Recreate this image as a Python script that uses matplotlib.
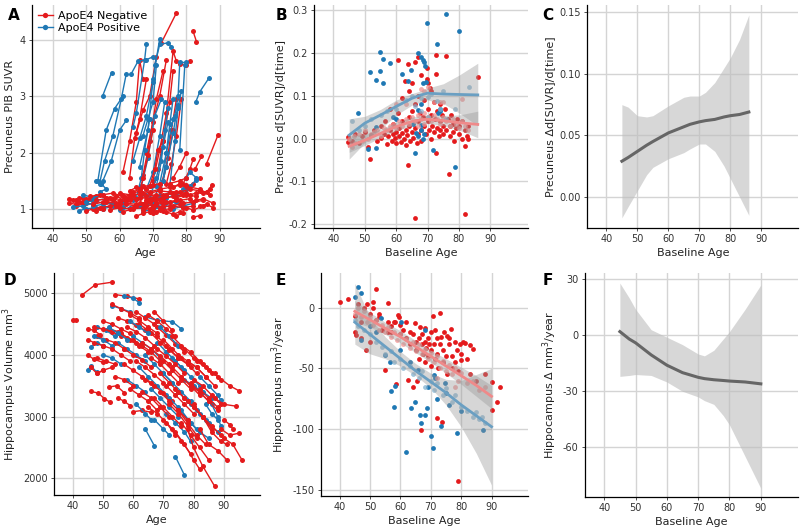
import matplotlib
matplotlib.use("Agg")
import matplotlib.pyplot as plt
from matplotlib.lines import Line2D

plt.rcParams['font.family'] = ['DejaVu Sans']
plt.rcParams['axes.unicode_minus'] = False

RED = '#E41A1C'
BLUE = '#1F78B4'
LRED = '#F29090'
LBLUE = '#7FB0CF'
CRED = '#EF8A8A'
CBLUE = '#6A9FC2'

# ---------------- Panel A: Precuneus PIB SUVR trajectories ----------------
A_pos = [
    [(54.9, 3.00), (57.6, 3.42)],
    [(54.0, 1.45), (55.5, 1.85), (58.0, 2.30), (60.5, 2.95), (62.0, 3.40)],
    [(53.5, 1.50), (56.0, 2.40), (58.5, 2.78), (61.0, 3.00)],
    [(55.0, 1.50), (57.5, 1.85), (60.0, 2.40), (62.0, 2.57)],
    [(64.0, 2.45), (65.0, 2.70), (67.5, 3.65), (68.0, 3.92)],
    [(63.5, 3.40), (65.5, 3.62), (68.0, 3.65), (70.0, 3.70)],
    [(66.0, 1.75), (68.5, 2.40), (70.0, 3.30), (72.0, 4.02)],
    [(70.5, 3.55), (72.0, 3.92), (74.5, 3.95), (75.5, 3.88)],
    [(64.0, 1.85), (66.0, 2.25), (68.0, 2.65), (70.0, 3.25)],
    [(66.5, 1.40), (68.5, 1.90), (70.5, 2.65), (72.5, 2.95)],
    [(68.0, 1.35), (70.0, 1.65), (72.0, 2.30), (73.5, 2.90)],
    [(69.0, 1.20), (71.0, 1.55), (73.0, 2.10), (74.5, 2.55)],
    [(70.0, 1.10), (72.0, 1.45), (74.0, 2.00), (76.0, 2.60)],
    [(72.0, 1.25), (74.0, 1.75), (76.0, 2.35), (77.5, 2.85)],
    [(75.0, 1.40), (76.5, 2.20), (77.5, 2.80), (78.5, 3.10)],
    [(76.5, 2.65), (77.5, 3.00), (78.0, 3.60), (80.0, 3.60)],
    [(78.0, 2.05), (79.5, 3.55)],
    [(82.8, 2.90), (84.0, 3.08), (86.7, 3.32)],
    [(80.0, 1.55), (81.0, 1.65), (83.0, 1.55)],
    [(65.0, 1.20), (66.5, 1.55), (67.5, 2.05), (69.0, 2.60)],
    [(71.0, 1.40), (72.5, 1.85), (73.5, 2.40), (74.5, 2.80)],
    [(73.0, 1.50), (74.0, 2.00), (75.0, 2.50), (76.0, 2.95)],
    [(67.0, 2.30), (68.5, 2.60), (70.0, 2.90), (71.0, 3.55)],
    [(53.0, 1.50), (54.5, 1.45), (56.0, 1.35), (54.0, 1.30)],
    [(46.0, 1.03), (49.0, 1.05), (52.0, 1.10)],
    [(48.0, 0.97), (50.0, 1.00), (53.0, 1.02)],
    [(49.0, 1.25), (52.0, 1.20), (55.0, 1.25)],
    [(50.0, 1.12), (53.0, 1.15), (56.0, 1.18)],
    [(52.0, 1.05), (55.0, 1.08), (58.0, 1.10)],
    [(55.0, 1.00), (58.0, 1.05), (61.0, 1.03)],
    [(58.0, 1.08), (61.0, 1.12), (64.0, 1.15)],
    [(60.0, 0.98), (63.0, 1.02), (66.0, 1.05)],
    [(62.0, 1.15), (65.0, 1.18), (68.0, 1.25)],
    [(65.0, 1.05), (68.0, 1.08), (71.0, 1.10)],
    [(67.0, 0.95), (70.0, 1.00), (73.0, 1.02)],
    [(69.0, 1.15), (72.0, 1.20), (75.0, 1.30)],
    [(71.0, 1.05), (74.0, 1.10), (77.0, 1.12)],
    [(74.0, 1.20), (77.0, 1.25), (80.0, 1.35)],
    [(76.0, 1.00), (79.0, 1.05), (82.0, 1.10)],
    [(79.0, 1.35), (81.0, 1.40), (83.0, 1.52)],
]

A_neg = [
    [(72.5, 3.95), (77.0, 4.48)],
    [(82.0, 4.15), (83.0, 3.97)],
    [(61.0, 1.65), (63.0, 2.20), (65.0, 2.90), (66.0, 3.65), (67.0, 3.30)],
    [(63.0, 1.55), (64.5, 2.25), (66.0, 2.60), (68.0, 3.30)],
    [(65.0, 2.35), (67.0, 2.75), (69.0, 3.00), (71.0, 3.70)],
    [(67.0, 1.60), (69.0, 2.20), (71.0, 2.95), (73.0, 3.45)],
    [(68.0, 2.00), (70.0, 2.55), (72.0, 3.00), (74.0, 3.65)],
    [(70.0, 1.50), (72.0, 2.05), (74.0, 2.70), (76.0, 3.80), (77.0, 3.62)],
    [(71.5, 1.70), (73.0, 2.20), (75.0, 2.90), (76.0, 3.45)],
    [(72.0, 1.35), (74.0, 1.75), (75.5, 2.40), (77.0, 2.95)],
    [(73.0, 1.50), (74.5, 1.90), (76.0, 2.40)],
    [(74.0, 1.45), (75.5, 1.80), (77.0, 2.30), (78.5, 2.95)],
    [(78.0, 3.58), (80.0, 3.55), (81.0, 3.62)],
    [(76.0, 1.55), (78.0, 1.75), (80.0, 2.00)],
    [(79.0, 1.45), (81.0, 1.70), (82.0, 1.88)],
    [(82.5, 1.70), (84.5, 1.93)],
    [(86.0, 1.80), (89.5, 2.32)],
    [(80.0, 1.35), (82.0, 1.45), (84.0, 1.55)],
    [(69.0, 1.40), (70.5, 1.70), (71.5, 2.05), (73.0, 2.20)],
    [(66.0, 1.30), (67.0, 1.55), (68.5, 1.95), (70.0, 2.40)],
    [(45, 1.18), (47, 1.15), (49, 1.20)],
    [(45, 1.10), (47, 1.08), (50, 1.12)],
    [(46, 1.15), (48, 1.12), (51, 1.18)],
    [(47, 1.05), (50, 1.10), (52, 1.08)],
    [(48, 1.20), (50, 1.18), (53, 1.22)],
    [(49, 1.12), (52, 1.15), (55, 1.10)],
    [(50, 0.96), (52, 1.00), (55, 1.03)],
    [(51, 1.22), (54, 1.25), (57, 1.20)],
    [(52, 1.08), (55, 1.12), (58, 1.15)],
    [(53, 1.15), (56, 1.18), (59, 1.22)],
    [(54, 1.02), (57, 1.05), (60, 1.08)],
    [(55, 1.25), (58, 1.28), (61, 1.22)],
    [(56, 1.12), (59, 1.10), (62, 1.15)],
    [(57, 0.98), (60, 1.02), (63, 1.00)],
    [(58, 1.18), (61, 1.22), (64, 1.25)],
    [(59, 1.05), (62, 1.10), (65, 1.08)],
    [(60, 1.28), (63, 1.25), (66, 1.32)],
    [(60, 1.12), (62, 1.15), (65, 1.18)],
    [(61, 0.95), (64, 1.00), (67, 1.02)],
    [(62, 1.20), (64, 1.24), (67, 1.28)],
    [(62, 1.08), (65, 1.05), (68, 1.12)],
    [(63, 1.15), (66, 1.20), (69, 1.18)],
    [(64, 1.30), (66, 1.35), (69, 1.40)],
    [(64, 1.02), (67, 1.08), (70, 1.05)],
    [(65, 0.87), (67, 0.92), (69, 0.95)],
    [(65, 1.18), (68, 1.22), (71, 1.25)],
    [(66, 1.10), (69, 1.12), (72, 1.15)],
    [(66, 1.25), (69, 1.30), (72, 1.35)],
    [(67, 0.98), (70, 1.02), (73, 1.05)],
    [(67, 1.40), (70, 1.42), (72, 1.45)],
    [(68, 1.15), (71, 1.18), (74, 1.22)],
    [(68, 1.05), (71, 1.08), (73, 1.10)],
    [(69, 1.28), (72, 1.32), (75, 1.30)],
    [(70, 0.92), (72, 0.98), (75, 1.00)],
    [(70, 1.20), (73, 1.25), (76, 1.28)],
    [(71, 1.10), (74, 1.12), (77, 1.15)],
    [(72, 1.35), (75, 1.38), (78, 1.42)],
    [(72, 1.02), (75, 1.05), (78, 1.08)],
    [(73, 1.18), (76, 1.22), (79, 1.25)],
    [(74, 0.95), (76, 0.90), (78, 0.95)],
    [(74, 1.25), (77, 1.30), (80, 1.28)],
    [(75, 1.12), (78, 1.15), (81, 1.18)],
    [(76, 1.05), (79, 1.02), (82, 1.05)],
    [(77, 1.20), (80, 1.25), (83, 1.22)],
    [(77, 0.88), (79, 0.92)],
    [(78, 1.30), (81, 1.35), (84, 1.32)],
    [(79, 1.10), (82, 1.12), (85, 1.15)],
    [(80, 1.02), (82, 0.98), (85, 1.05)],
    [(81, 1.25), (83, 1.28), (86, 1.30)],
    [(82, 0.85), (84, 0.88)],
    [(83, 1.15), (85, 1.18), (88, 1.10)],
    [(84, 1.05), (86, 1.08), (88, 1.02)],
    [(85, 1.28), (87, 1.35), (87.5, 1.43)],
    [(80, 1.40), (84, 1.35), (87, 1.25)],
    [(76, 1.38), (78, 1.45), (80, 1.42)],
    [(56, 1.20), (60, 1.15), (63, 1.20)],
    [(53, 0.97), (55, 1.00)],
    [(69, 1.00), (71, 0.95), (73, 0.97)],
    [(63, 1.32), (65, 1.38), (68, 1.35)],
    [(75, 1.45), (78, 1.50), (80, 1.55)],
]

# ---------------- Panel B: precuneus slopes ----------------
B_neg = [(44.5, 0.003), (44.6, -0.008), (46, -0.005), (47, 0.010), (48, -0.010), (49, 0.005), (50, 0.015),
         (51, -0.020), (51.8, -0.048), (52, 0.008), (53, 0.020), (54, -0.005), (55, 0.030), (55, 0.002),
         (56, 0.010), (56.5, 0.040), (57, -0.013), (57.5, 0.005), (58, 0.020), (58, 0.070), (58.5, -0.005),
         (59, 0.010), (59, 0.035), (59.5, 0.002), (60, 0.015), (60, -0.010), (60.6, 0.183), (60.5, 0.060),
         (61, 0.005), (61, 0.025), (61.5, -0.008), (61.7, 0.094), (62, 0.012), (62, 0.040), (62.5, 0.000),
         (62.7, 0.134), (63, 0.020), (63, -0.015), (63.5, 0.008), (63.8, 0.174), (63.8, -0.062), (64, 0.030),
         (64, 0.050), (64.5, -0.005), (65, 0.015), (65, 0.065), (65.5, 0.002), (65.9, 0.179), (65.9, -0.186),
         (66, 0.025), (66, 0.080), (66.5, -0.010), (66.9, 0.191), (67, 0.010), (67, 0.040), (67.5, 0.060),
         (68, 0.148), (68, 0.020), (68, -0.005), (68.5, 0.050), (69, 0.030), (69, 0.090), (69.5, 0.010),
         (69.9, 0.164), (69.9, 0.139), (70, 0.040), (70, 0.070), (70.2, 0.130), (70.5, 0.020), (70.8, 0.119),
         (71, 0.055), (71, 0.000), (71.5, 0.030), (72, 0.085), (72, 0.015), (72.5, 0.045), (72.8, 0.195),
         (72.8, 0.150), (72.8, -0.034), (73, 0.025), (73, 0.065), (73.5, 0.005), (74, 0.040), (74, 0.020),
         (74.5, 0.055), (75, 0.010), (75, 0.030), (75.5, 0.070), (76, 0.193), (76, 0.020), (76.5, 0.045),
         (76.8, -0.083), (77, 0.005), (77, 0.030), (77.5, 0.055), (78, 0.015), (78, 0.035), (78.5, -0.005),
         (79, 0.025), (79.5, 0.045), (80, 0.010), (80, 0.030), (81, 0.000), (81, 0.040), (81.8, -0.017),
         (81.8, -0.177), (82, 0.020), (82.5, 0.005), (83, 0.030), (83, 0.000), (86, 0.143), (67, 0.100),
         (65, 0.130), (64, 0.110), (71, 0.110), (74, 0.080)]
B_pos = [(47.7, 0.060), (50.9, -0.025), (51.8, 0.155), (53.7, 0.136), (53.7, -0.023), (53.7, 0.028),
         (54.8, 0.203), (54.8, 0.158), (55.9, 0.185), (55.9, 0.129), (57.9, 0.177), (58.9, 0.051),
         (61.9, 0.152), (63.8, 0.134), (64.8, 0.160), (65.9, -0.033), (66.4, 0.012), (66.8, 0.067),
         (66.9, 0.201), (66.9, 0.005), (67.8, 0.081), (67.8, 0.032), (68, 0.190), (68, 0.020), (68.5, 0.184),
         (68.5, 0.130), (69, 0.178), (69.2, 0.170), (69.6, 0.133), (69.8, 0.269), (71.7, -0.027),
         (72.9, 0.221), (73.4, 0.060), (73.9, 0.065), (74.1, 0.068), (75.9, 0.292), (78.8, -0.066),
         (79.9, 0.252), (68.5, 0.000), (69, 0.010), (65.5, 0.035), (60, 0.045)]
B_neg_fit = [(45, 0.000), (46, -0.020), (46.5, 0.005), (47, -0.010), (48, 0.010), (49, -0.005), (50, 0.020),
             (51, 0.000), (52, 0.010), (53, 0.015), (54, 0.020), (55, 0.005), (56, 0.025), (57, 0.020),
             (58, 0.030), (59, 0.035), (60, 0.025), (61, 0.040), (62, 0.030), (63, 0.045), (64, 0.035),
             (65, 0.050), (66, 0.040), (67, 0.055), (67, 0.030), (68, 0.045), (69, 0.060), (69, 0.035),
             (70, 0.050), (71, 0.040), (72, 0.055), (73, 0.045), (74, 0.035), (75, 0.050), (76, 0.040),
             (77, 0.030), (78, 0.045), (79, 0.035), (80, 0.025), (81, 0.040), (82, 0.030), (83, 0.020),
             (68, 0.115), (69, 0.110), (70, 0.120), (72, 0.085), (74, 0.085), (75, 0.085), (81, 0.092),
             (63, 0.080), (60, 0.080)]
B_pos_fit = [(46, 0.040), (48, 0.020), (50, 0.030), (52, 0.045), (55, 0.055), (57, 0.065), (60, 0.070),
             (63, 0.090), (65, 0.100), (66, 0.075), (68, 0.095), (70, 0.098), (71, 0.105), (73, 0.088),
             (74, 0.070), (75, 0.110), (78.6, 0.068), (83.3, 0.120), (76, 0.045), (70, 0.050), (68, 0.065)]

B_age = [45, 50, 55, 60, 65, 68, 70, 75, 80, 86]
B_pos_fit_line = [0.008, 0.036, 0.055, 0.075, 0.094, 0.102, 0.106, 0.104, 0.103, 0.102]
B_pos_lo = [-0.048, -0.010, 0.022, 0.055, 0.078, 0.086, 0.090, 0.082, 0.060, 0.030]
B_pos_hi = [0.046, 0.052, 0.068, 0.090, 0.105, 0.112, 0.118, 0.128, 0.148, 0.176]
B_neg_fit_line = [-0.018, -0.004, 0.012, 0.028, 0.040, 0.044, 0.045, 0.042, 0.037, 0.033]
B_neg_lo = [-0.032, -0.016, 0.002, 0.018, 0.030, 0.034, 0.035, 0.030, 0.020, 0.002]
B_neg_hi = [0.006, 0.010, 0.022, 0.038, 0.050, 0.054, 0.055, 0.054, 0.055, 0.064]

# ---------------- Panel C: difference in precuneus slope ----------------
C_age = [45, 47, 50, 53, 55, 60, 65, 67, 70, 72, 75, 78, 80, 83, 86]
C_fit = [0.029, 0.032, 0.037, 0.042, 0.045, 0.052, 0.057, 0.059, 0.061, 0.062, 0.063, 0.065, 0.066, 0.067, 0.069]
C_lo = [-0.017, -0.008, 0.005, 0.018, 0.024, 0.031, 0.036, 0.039, 0.043, 0.043, 0.037, 0.025, 0.015, 0.000, -0.015]
C_hi = [0.075, 0.073, 0.066, 0.065, 0.066, 0.074, 0.081, 0.082, 0.082, 0.085, 0.093, 0.105, 0.113, 0.128, 0.148]

# ---------------- Panel D: hippocampal volume trajectories ----------------
D_neg = [
    [(43, 4970), (47.5, 5140), (53, 5180)],
    [(40, 4570), (41, 4570)],
    [(54, 4980), (58, 4950), (62, 4910)],
    [(45, 4420), (47, 4400), (49, 4330)],
    [(45, 4250), (47, 4200), (50, 4150)],
    [(45, 4000), (47, 3930), (50, 3880)],
    [(46, 3410), (48.5, 3380), (50.5, 3290), (52.5, 3230)],
    [(52, 3480), (54.5, 3500), (57, 3390)],
    [(55, 3300), (57, 3250), (59, 3180)],
    [(60, 3080), (63, 3100), (66, 3070)],
    [(48, 3700), (50, 3750), (53, 3800)],
    [(47, 4450), (50, 4420), (53, 4380), (56, 4300)],
    [(48, 4300), (51, 4250), (54, 4200), (57, 4100)],
    [(50, 4550), (53, 4500), (56, 4420), (59, 4350)],
    [(52, 4420), (55, 4380), (58, 4280), (61, 4200)],
    [(53, 4820), (56, 4750), (59, 4680), (62, 4600)],
    [(55, 4600), (58, 4550), (61, 4480), (64, 4400)],
    [(56, 4350), (59, 4250), (62, 4150), (65, 4050)],
    [(57, 4100), (60, 4000), (63, 3920), (66, 3800)],
    [(58, 4450), (61, 4380), (64, 4280), (67, 4150)],
    [(59, 4650), (62, 4560), (65, 4450), (68, 4350)],
    [(60, 4250), (63, 4150), (66, 4050), (69, 3900)],
    [(61, 3900), (64, 3800), (67, 3680), (70, 3550)],
    [(62, 4500), (65, 4400), (68, 4300), (71, 4150)],
    [(63, 4200), (66, 4100), (69, 3980), (72, 3850)],
    [(64, 3600), (67, 3500), (70, 3380), (73, 3250)],
    [(65, 4650), (68, 4550), (71, 4420), (74, 4300)],
    [(66, 4350), (69, 4200), (72, 4080), (75, 3950)],
    [(66, 3950), (69, 3850), (72, 3700), (75, 3550)],
    [(67, 3300), (70, 3150), (73, 3000), (76, 2850)],
    [(68, 4450), (71, 4320), (74, 4180), (77, 4050)],
    [(68, 4100), (71, 3980), (74, 3850), (77, 3700)],
    [(69, 3700), (72, 3550), (75, 3400), (78, 3250)],
    [(70, 4250), (73, 4100), (76, 3950), (79, 3800)],
    [(70, 3900), (73, 3750), (76, 3600), (79, 3450)],
    [(71, 3500), (74, 3350), (77, 3200), (80, 3050)],
    [(72, 4100), (75, 3950), (78, 3850), (81, 3700)],
    [(72, 3200), (75, 3050), (78, 2850), (81, 2650)],
    [(73, 3800), (76, 3650), (79, 3500), (82, 3350)],
    [(74, 3450), (77, 3300), (80, 3150), (83, 3000)],
    [(75, 4000), (78, 3900), (81, 3800), (84, 3650)],
    [(75, 3100), (78, 2900), (81, 2700), (84, 2550)],
    [(76, 3650), (79, 3500), (82, 3400), (85, 3250)],
    [(77, 3300), (80, 3150), (83, 3000), (86, 2800)],
    [(78, 3900), (81, 3800), (84, 3650), (87, 3500)],
    [(78, 2800), (80, 2500), (83, 2200), (87, 1870)],
    [(79, 3550), (82, 3400), (85, 3250), (88, 3100)],
    [(80, 3200), (83, 3000), (86, 2850), (89, 2700)],
    [(81, 3900), (84, 3800), (87, 3700), (89, 3600)],
    [(82, 3450), (85, 3300), (88, 3150)],
    [(83, 3000), (86, 2750), (89, 2600), (91, 2550)],
    [(85, 3750), (88, 3650), (92, 3500), (95, 3420)],
    [(87, 3300), (90, 3200), (94, 3170)],
    [(90, 2950), (92, 2870), (93, 2800)],
    [(89, 2800), (92, 2700), (95, 2730)],
    [(90, 2650), (93, 2550), (96, 2300)],
    [(46, 3800), (48, 3700), (50, 3750)],
    [(48, 3950), (51, 3900), (54, 3850)],
    [(50, 4150), (53, 4100), (56, 4000), (59, 3900)],
    [(54, 3650), (57, 3600), (60, 3500)],
    [(57, 3850), (60, 3750), (63, 3650), (66, 3550)],
    [(59, 3450), (62, 3350), (65, 3250), (68, 3100)],
    [(63, 3400), (66, 3300), (69, 3150), (72, 3000)],
    [(65, 3150), (68, 3050), (71, 2900), (74, 2700)],
    [(70, 2950), (73, 2800), (76, 2600), (79, 2400)],
    [(74, 2750), (77, 2550), (80, 2300), (82, 2150)],
    [(76, 2900), (79, 2700), (82, 2500), (85, 2300)],
    [(73, 4300), (76, 4150), (79, 4050), (82, 3900)],
    [(77, 4100), (80, 3950), (83, 3850), (86, 3700)],
    [(80, 3600), (83, 3500), (86, 3350), (89, 3200)],
    [(67, 4700), (70, 4550), (73, 4400)],
    [(61, 4700), (64, 4600), (67, 4500)],
    [(69, 3400), (72, 3250), (75, 3100), (78, 2950)],
    [(82, 2800), (85, 2550), (88, 2450), (91, 2300)],
]

D_pos = [
    [(45, 3760), (46, 3820), (48, 3720)],
    [(46, 4130), (48, 4200), (50, 4150)],
    [(48, 4450), (51, 4400), (54, 4300)],
    [(53, 4800), (56, 4750), (59, 4700)],
    [(57, 4960), (60, 4920), (62, 4850)],
    [(64, 4620), (68, 4560), (73, 4540), (76, 4420)],
    [(64, 2800), (67, 2530)],
    [(74, 2350), (77, 2050)],
    [(50, 4000), (53, 3950), (56, 3850)],
    [(55, 4200), (58, 4100), (61, 4000), (64, 3900)],
    [(58, 3600), (61, 3500), (64, 3400)],
    [(60, 4300), (63, 4200), (66, 4100), (69, 3950)],
    [(62, 3800), (65, 3650), (68, 3500), (71, 3350)],
    [(64, 4000), (67, 3850), (70, 3700), (73, 3550)],
    [(66, 3450), (69, 3300), (72, 3150), (75, 3000)],
    [(68, 4200), (71, 4050), (74, 3900), (77, 3750)],
    [(70, 3700), (73, 3550), (76, 3400), (79, 3250)],
    [(71, 3050), (74, 2900), (77, 2750), (79, 2600)],
    [(73, 3950), (76, 3800), (79, 3650), (82, 3500)],
    [(75, 3400), (78, 3250), (81, 3100), (84, 2950)],
    [(77, 3600), (80, 3500), (83, 3400), (86, 3300)],
    [(79, 3200), (82, 3050), (85, 2900), (88, 2750)],
    [(82, 3650), (85, 3500), (88, 3350), (89, 3270)],
    [(84, 3200), (86, 3050), (88, 2950)],
    [(52, 4450), (55, 4350), (58, 4250)],
    [(47, 4300), (50, 4250), (53, 4150)],
    [(61, 3200), (64, 3050), (66, 2950)],
    [(67, 2950), (70, 2800), (72, 2700)],
    [(72, 3300), (75, 3150), (78, 2950), (81, 2800)],
    [(76, 3100), (79, 2900), (82, 2750), (85, 2650)],
    [(59, 4550), (62, 4450), (65, 4350)],
    [(86, 3200), (88, 3000), (89, 2850)],
    [(69, 4450), (72, 4300), (75, 4150)],
]

# ---------------- Panel E: hippocampal slopes ----------------
E_neg = [(40, 5), (42.7, 7), (44.9, -20), (45.5, -22.5), (45, -7), (46, 3), (47, -12), (48, 0), (48.8, -35),
         (49, 3), (50, -5), (50, -28), (51, 5), (51, 0), (52.1, 15.4), (52, -10), (53, -5), (54, -18), (55, -51),
         (55.9, 4), (56, -20), (56, -12), (57, -15), (58, -12), (58.1, -11.5), (58.7, -63), (59.2, -6),
         (59.5, -8), (60, -14), (60, -22), (61, -18), (62, -12), (62.5, -59.5), (62, -25), (63, -20), (63, -30),
         (64, -22), (64.7, -13), (65, -28), (65, -35), (65.5, -60), (66.4, -15.6), (66, -25), (66.9, -101),
         (67, -30), (67, -22), (67.5, -38), (68, -17), (68, -28), (68, -45), (68.5, -33), (69, -25), (69, -40),
         (69.5, -30), (70, -20), (70, -35), (70, -48), (70.8, -7), (71, -30), (71.3, -18), (71.5, -42),
         (71.9, -91), (72, -25), (72, -38), (72.5, -50), (73, -4), (73, -30), (73.5, -24), (73.7, -94), (74, -35),
         (74, -45), (74.5, -20), (75, -40), (75.2, -23), (75.5, -55), (76, -30), (76.8, -17.8), (77, -40),
         (77, -50), (78, -28), (78, -45), (78.5, -35), (79, -143), (79, -52), (79.5, -30), (80, -38),
         (80.1, -43), (80.5, -28), (81.2, -29), (82, -42), (82.9, -31), (84, -34), (83, -55), (85, -60),
         (88, -55), (90, -61), (90, -84), (91.9, -78), (92.7, -65.5), (76, -25), (66, -42), (64, -65),
         (57, -20), (53, -8), (47, -25)]
E_pos = [(45, 8.5), (46, 17), (47.1, 12), (47.1, -26.6), (53.7, -8.8), (54.8, -39), (56.5, -44.4), (57, -69),
         (57.9, -81.4), (58.1, -64.4), (60.3, -11.5), (62, -118.5), (63.6, -82.8), (64.9, -77.3), (65.8, -51),
         (66.5, -88), (66.9, -95), (68, -18), (68.2, -88), (68.6, -82.8), (70, -106), (70.8, -115.7),
         (71.1, -55.4), (71.3, -58), (73.5, -97), (74.8, -62), (75, -70), (78.5, -103), (87.3, -100.6),
         (60, -35), (63, -45), (69, -65), (72, -75), (76, -80), (80, -85), (52, -20), (50, -15)]
E_neg_fit = [(45, -5), (46, 0), (47, -8), (48, -3), (49, -12), (50, -8), (51, -14), (52, -10), (53, -18),
             (54, -14), (55, -20), (56, -16), (57, -24), (58, -20), (59, -27), (60, -22), (61, -30), (62, -26),
             (63, -33), (64, -28), (65, -36), (66, -30), (67, -38), (68, -34), (69, -42), (70, -37), (71, -45),
             (72, -40), (73, -50), (74, -44), (75, -52), (76, -47), (77, -55), (78, -50), (79, -60), (80, -54),
             (82, -62), (84, -60), (86, -68), (88, -65), (78, -65), (72, -58)]
E_pos_fit = [(45, -10), (46, -15), (48, -18), (50, -22), (52, -28), (54, -32), (55, -38), (57, -36), (58, -45),
             (60, -42), (61, -50), (63, -48), (64, -55), (66, -58), (67, -52), (68, -65), (70, -60), (71, -68),
             (72, -62), (74, -72), (75, -66), (77, -78), (78, -72), (80, -82), (82, -85), (84, -90), (85, -86),
             (86, -92), (88, -95), (87, -90)]

E_age = [45, 50, 55, 60, 65, 70, 75, 80, 85, 90]
E_neg_line = [-3, -10, -17, -24, -32, -40, -48, -56, -64, -73]
E_neg_lo = [-12, -16, -22, -29, -37, -45, -54, -63, -73, -83]
E_neg_hi = [6, -4, -12, -19, -27, -35, -42, -49, -56, -64]
E_pos_line = [-12, -22, -32, -42, -52, -61, -70, -80, -89, -98]
E_pos_lo = [-30, -38, -42, -48, -56, -66, -80, -98, -120, -146]
E_pos_hi = [20, -8, -24, -36, -46, -54, -59, -60, -55, -50]

# ---------------- Panel F: difference in hippocampal slope ----------------
F_age = [45, 48, 50, 55, 60, 65, 70, 72, 75, 78, 80, 85, 90]
F_fit = [2, -2, -4, -10.5, -16, -20, -22.5, -23.2, -23.8, -24.2, -24.5, -25, -26]
F_lo = [-22, -21.5, -21, -21.5, -25, -30, -33, -35, -37, -43, -48, -65, -82]
F_hi = [28, 20, 14, 3, -1, -5, -10, -11, -8, -2, 2, 14, 27]

XTICKS = [40, 50, 60, 70, 80, 90]


def style(ax, ylim, yticks, ylabels, ylabel, xlabel):
    ax.set_xlim(33.8, 102)
    ax.set_ylim(*ylim)
    ax.set_xticks(XTICKS)
    ax.set_xticklabels([str(t) for t in XTICKS])
    ax.set_yticks(yticks)
    ax.set_yticklabels(ylabels)
    ax.grid(True, color='#d4d4d4', lw=1.0, zorder=0)
    ax.set_axisbelow(True)
    for s in ['top', 'right']:
        ax.spines[s].set_visible(False)
    for s in ['left', 'bottom']:
        ax.spines[s].set_color('black')
        ax.spines[s].set_linewidth(0.9)
    ax.tick_params(axis='both', length=2.5, width=0.6, colors='#333333', labelsize=7, pad=2)
    ax.set_xlabel(xlabel, fontsize=8, color='#222222', labelpad=3)
    ax.set_ylabel(ylabel, fontsize=8, color='#222222', labelpad=3)


def traj(ax, groups):
    # interleave subjects of both groups
    n = max(len(g[0]) for g in groups)
    for i in range(n):
        for trajs, col in groups:
            if i < len(trajs):
                xs = [p[0] for p in trajs[i]]
                ys = [p[1] for p in trajs[i]]
                ax.plot(xs, ys, '-o', color=col, lw=1.0, ms=3.6, mec=col, mew=0, zorder=3)


def scat(ax, pts, col, alpha=1.0, z=3):
    ax.scatter([p[0] for p in pts], [p[1] for p in pts], s=12, color=col, alpha=alpha,
               linewidths=0, zorder=z)


fig = plt.figure(figsize=(8, 5.29), dpi=100)

axA = fig.add_axes([0.040, 0.569, 0.285, 0.4215])
axB = fig.add_axes([0.3925, 0.569, 0.2675, 0.4215])
axC = fig.add_axes([0.734, 0.569, 0.264, 0.4215])
axD = fig.add_axes([0.0675, 0.0643, 0.2575, 0.4196])
axE = fig.add_axes([0.401, 0.0624, 0.259, 0.4215])
axF = fig.add_axes([0.731, 0.061, 0.267, 0.4229])

# A
traj(axA, [(A_pos, BLUE), (A_neg, RED)])
style(axA, (0.66, 4.62), [1, 2, 3, 4], ['1', '2', '3', '4'], 'Precuneus PIB SUVR', 'Age')
handles = [Line2D([0], [0], color=RED, marker='o', ms=3.8, mew=0, lw=1),
           Line2D([0], [0], color=BLUE, marker='o', ms=3.8, mew=0, lw=1)]
axA.legend(handles, ['ApoE4 Negative', 'ApoE4 Positive'], loc='upper left', bbox_to_anchor=(-0.005, 1.005),
           frameon=False, fontsize=8, handlelength=1.4, handletextpad=0.4, labelspacing=0.25, borderaxespad=0.2)

# B
scat(axB, B_neg, RED)
scat(axB, B_pos, BLUE)
scat(axB, B_neg_fit, LRED, 0.75, 4)
scat(axB, B_pos_fit, LBLUE, 0.75, 4)
axB.fill_between(B_age, B_pos_lo, B_pos_hi, color='#999999', alpha=0.4, lw=0, zorder=5)
axB.fill_between(B_age, B_neg_lo, B_neg_hi, color='#999999', alpha=0.4, lw=0, zorder=5)
axB.plot(B_age, B_pos_fit_line, color=CBLUE, lw=2.0, zorder=6)
axB.plot(B_age, B_neg_fit_line, color=CRED, lw=2.0, zorder=6)
style(axB, (-0.209, 0.312), [-0.2, -0.1, 0.0, 0.1, 0.2, 0.3],
      ['-0.2', '-0.1', '0.0', '0.1', '0.2', '0.3'], 'Precuneus d[SUVR]/d[time]', 'Baseline Age')

# C
axC.fill_between(C_age, C_lo, C_hi, color='#bdbdbd', alpha=0.6, lw=0, zorder=2)
axC.plot(C_age, C_fit, color='#666666', lw=2.2, zorder=3)
style(axC, (-0.0253, 0.156), [0.0, 0.05, 0.10, 0.15], ['0.00', '0.05', '0.10', '0.15'],
      'Precuneus \u0394d[SUVR]/d[time]', 'Baseline Age')

# D
traj(axD, [(D_pos, BLUE), (D_neg, RED)])
style(axD, (1729, 5329), [2000, 3000, 4000, 5000], ['2000', '3000', '4000', '5000'],
      'Hippocampus Volume mm$^3$', 'Age')

# E
scat(axE, E_neg, RED)
scat(axE, E_pos, BLUE)
scat(axE, E_neg_fit, LRED, 0.75, 4)
scat(axE, E_pos_fit, LBLUE, 0.75, 4)
axE.fill_between(E_age, E_pos_lo, E_pos_hi, color='#999999', alpha=0.4, lw=0, zorder=5)
axE.fill_between(E_age, E_neg_lo, E_neg_hi, color='#999999', alpha=0.4, lw=0, zorder=5)
axE.plot(E_age, E_pos_line, color=CBLUE, lw=2.0, zorder=6)
axE.plot(E_age, E_neg_line, color=CRED, lw=2.0, zorder=6)
style(axE, (-155, 28.5), [-150, -100, -50, 0], ['-150', '-100', '-50', '0'],
      'Hippocampus mm$^3$/year', 'Baseline Age')

# F
axF.fill_between(F_age, F_lo, F_hi, color='#bdbdbd', alpha=0.6, lw=0, zorder=2)
axF.plot(F_age, F_fit, color='#666666', lw=2.2, zorder=3)
style(axF, (-86.5, 33.4), [-60, -30, 0, 30], ['-60', '-30', '0', '30'],
      'Hippocampus \u0394 mm$^3$/year', 'Baseline Age')

# panel letters
for lab, x, y in [('A', 0.010, 0.985), ('B', 0.344, 0.985), ('C', 0.678, 0.985),
                  ('D', 0.005, 0.483), ('E', 0.344, 0.483), ('F', 0.678, 0.483)]:
    fig.text(x, y, lab, fontsize=11, fontweight='bold', ha='left', va='top')

fig.savefig('out.png', dpi=100)
